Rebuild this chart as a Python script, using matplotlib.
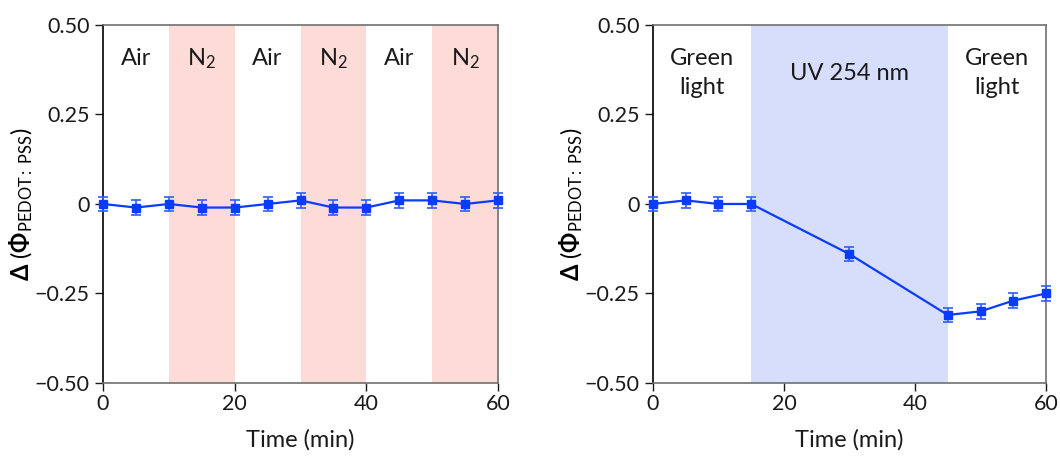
import matplotlib
matplotlib.use("Agg")
import matplotlib.pyplot as plt

"Data read from the figure"
# left panel: Air / N2 switching
t_gas = [0, 5, 10, 15, 20, 25, 30, 35, 40, 45, 50, 55, 60]
d_gas = [0, -0.01, 0, -0.01, -0.01, 0, 0.01, -0.01, -0.01, 0.01, 0.01, 0, 0.01]
e_gas = [0.02] * len(t_gas)
gas_bands = [(10, 20), (30, 40), (50, 60)]
gas_labels = [(5, "Air"), (15, "N$_2$"), (25, "Air"), (35, "N$_2$"), (45, "Air"), (55, "N$_2$")]

# right panel: green light / UV
t_uv = [0, 5, 10, 15, 30, 45, 50, 55, 60]
d_uv = [0, 0.01, 0, 0, -0.14, -0.31, -0.30, -0.27, -0.25]
e_uv = [0.02, 0.02, 0.02, 0.02, 0.02, 0.02, 0.02, 0.02, 0.02]
uv_bands = [(15, 45)]
uv_labels = [(7.5, "Green\nlight"), (30, "UV 254 nm"), (52.5, "Green\nlight")]

y_ticks = [-0.5, -0.25, 0, 0.25, 0.5]
y_ticklabels = ["\u22120.50", "\u22120.25", "0", "0.25", "0.50"]
x_ticks = [0, 20, 40, 60]

plt.rcParams["font.family"] = ["Lato", "DejaVu Sans"]
plt.rcParams["font.weight"] = "normal"
plt.rcParams["mathtext.fontset"] = "custom"
plt.rcParams["mathtext.rm"] = "Lato"
plt.rcParams["mathtext.it"] = "Lato:italic"
plt.rcParams["mathtext.bf"] = "Lato:bold"

line_col = "#0a3cff"
err_col = "#2f5dff"
spine_gray = "#707070"
text_col = "#1a1a1a"


def style_axes(ax, bands, band_col, labels, label_y):
    for a, b in bands:
        ax.axvspan(a, b, color=band_col, lw=0, zorder=0)
    for x, s in labels:
        ax.text(x, label_y, s, ha="center", va="center", fontsize=17, color=text_col,
                linespacing=1.45)
    ax.set_xlim(0, 60)
    ax.set_ylim(-0.5, 0.5)
    ax.set_xticks(x_ticks)
    ax.set_yticks(y_ticks)
    ax.set_yticklabels(y_ticklabels)
    ax.tick_params(direction="out", length=6, width=1, labelsize=15.5, colors=text_col)
    ax.tick_params(axis="x", pad=2)
    for side in ["top", "right", "bottom"]:
        ax.spines[side].set_color(spine_gray)
        ax.spines[side].set_linewidth(1.2)
    ax.spines["left"].set_color("black")
    ax.spines["left"].set_linewidth(1.2)
    ax.set_xlabel("Time (min)", fontsize=17, color=text_col, labelpad=11)
    ax.set_ylabel(r"$\mathbf{\Delta}$ ($\mathbf{\Phi}_{\mathrm{PEDOT{:}\ PSS}}$)", fontsize=17,
                  color="black", labelpad=0)


fig = plt.figure(figsize=(10.6, 4.58), dpi=100)
ax1 = fig.add_axes([0.0972, 0.1638, 0.3726, 0.7817])
ax2 = fig.add_axes([0.616, 0.1638, 0.3708, 0.7817])

style_axes(ax1, gas_bands, "#fddcd7", gas_labels, 0.405)
style_axes(ax2, uv_bands, "#d7defb", uv_labels, 0.365)

for ax, t, d, e in [(ax1, t_gas, d_gas, e_gas), (ax2, t_uv, d_uv, e_uv)]:
    ax.errorbar(t, d, yerr=e, color=line_col, ecolor=err_col, elinewidth=1.2, capsize=3.5,
                capthick=1.2, lw=1.6, marker="s", ms=6, mfc=line_col, mec=line_col,
                clip_on=False, zorder=5)

fig.savefig("out.png", dpi=100)
